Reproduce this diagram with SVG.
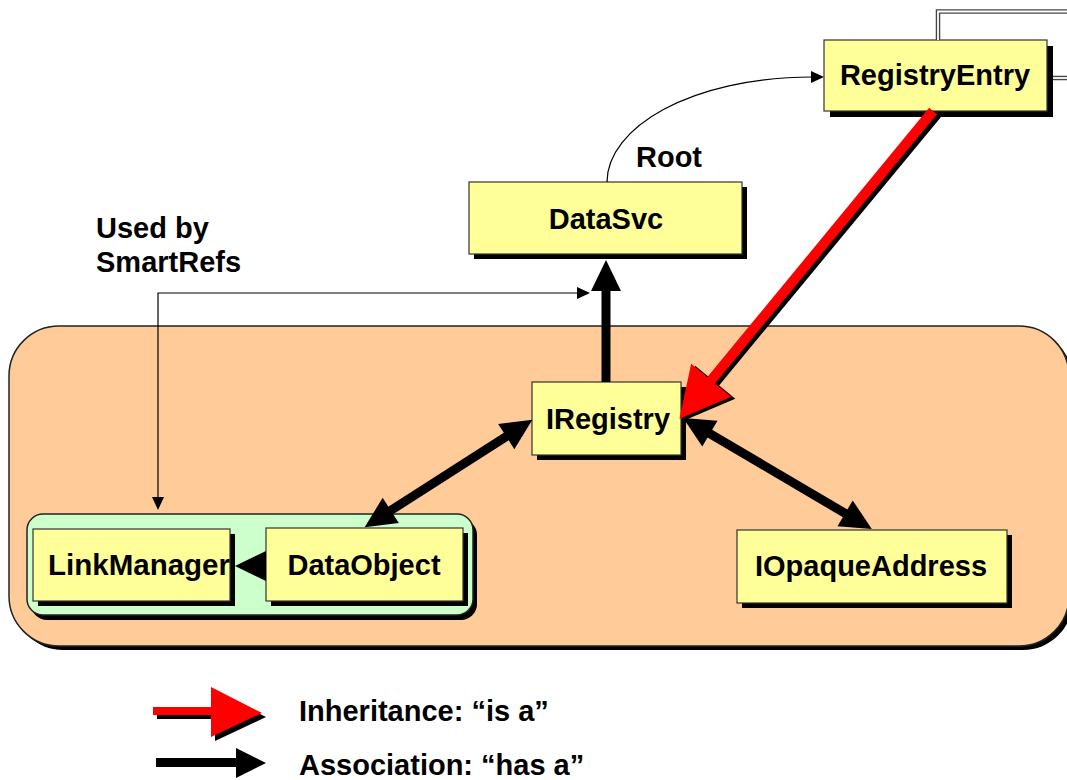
<svg xmlns="http://www.w3.org/2000/svg" width="1067" height="780" viewBox="0 0 1067 780">
<style>
  text { font-family: "Liberation Sans", Arial, sans-serif; font-weight: bold; font-size: 29px; fill: #000; }
  .mid { text-anchor: middle; }
  .box { fill: #FFFF99; stroke: #333; stroke-width: 1.2; }
  .shadow { fill: #000; }
  .assoc { stroke: #000; stroke-width: 9; fill: none; }
  .thin { stroke: #000; stroke-width: 1.2; fill: none; }
  .dbl-out { stroke: #444; stroke-width: 4.5; fill: none; }
  .dbl-in { stroke: #fff; stroke-width: 1.8; fill: none; }
</style>
<defs>
  <marker id="assoc" markerUnits="userSpaceOnUse" viewBox="0 -16 32 32" markerWidth="32" markerHeight="32" refX="8" refY="0" orient="auto-start-reverse" overflow="visible">
    <path d="M0,-15 L31,0 L0,15 z" fill="#000"/>
  </marker>
  <marker id="inh" markerUnits="userSpaceOnUse" viewBox="0 -27 52 54" markerWidth="52" markerHeight="54" refX="12" refY="0" orient="auto" overflow="visible">
    <path d="M0,-26 L50,0 L0,26 z" fill="#FF0000"/>
  </marker>
  <marker id="inhShadow" markerUnits="userSpaceOnUse" viewBox="0 -27 52 54" markerWidth="52" markerHeight="54" refX="12" refY="0" orient="auto" overflow="visible">
    <path d="M0,-26 L50,0 L0,26 z" fill="#000"/>
  </marker>
  <marker id="small" markerUnits="userSpaceOnUse" viewBox="0 -7 14 14" markerWidth="14" markerHeight="14" refX="2" refY="0" orient="auto-start-reverse" overflow="visible">
    <path d="M0,-6 L13,0 L0,6 z" fill="#000"/>
  </marker>
</defs>

<rect width="1067" height="780" fill="#fff"/>

<g id="container-outer">
  <rect x="13" y="330" width="1060" height="320" rx="50" class="shadow"/>
  <rect x="9" y="326" width="1060" height="320" rx="50" fill="#FFCC99" stroke="#222" stroke-width="1.5"/>
</g>
<g id="container-inner">
  <rect x="31" y="519" width="446" height="101" rx="16" class="shadow"/>
  <rect x="27" y="514" width="446" height="101" rx="16" fill="#CCFFCC" stroke="#222" stroke-width="1.5"/>
</g>

<g id="labels">
  <text x="96" y="238">Used by</text>
  <text x="96" y="272">SmartRefs</text>
  <text x="636" y="167">Root</text>
</g>

<g id="node-registryentry">
  <rect x="830" y="46" width="223" height="71" class="shadow"/>
  <rect x="824" y="40" width="223" height="71" class="box"/>
  <text x="935" y="85" class="mid">RegistryEntry</text>
</g>
<g id="node-datasvc">
  <rect x="474" y="187" width="273" height="72" class="shadow"/>
  <rect x="469" y="182" width="273" height="72" class="box"/>
  <text x="606" y="229" class="mid">DataSvc</text>
</g>
<g id="node-iregistry">
  <rect x="537" y="387" width="149" height="73" class="shadow"/>
  <rect x="532" y="382" width="149" height="73" class="box"/>
  <text x="608" y="429" class="mid">IRegistry</text>
</g>
<g id="node-linkmanager">
  <rect x="38" y="534" width="197" height="72" class="shadow"/>
  <rect x="33" y="529" width="197" height="72" class="box"/>
  <text x="48" y="575" textLength="182" lengthAdjust="spacingAndGlyphs">LinkManager</text>
</g>
<g id="node-dataobject">
  <rect x="271" y="533" width="197" height="73" class="shadow"/>
  <rect x="266" y="528" width="197" height="73" class="box"/>
  <text x="364" y="575" class="mid">DataObject</text>
</g>
<g id="node-iopaqueaddress">
  <rect x="742" y="535" width="270" height="73" class="shadow"/>
  <rect x="737" y="530" width="270" height="73" class="box"/>
  <text x="871" y="576" class="mid">IOpaqueAddress</text>
</g>

<g id="connectors">
  <path d="M938,40 V11.5 H1067" class="dbl-out"/>
  <path d="M938,40 V11.5 H1067" class="dbl-in"/>
  <path d="M1053,78 H1067" class="dbl-out"/>
  <path d="M1053,78 H1067" class="dbl-in"/>
  <path d="M607,182 C607,128 690,77 813,77" class="thin" marker-end="url(#small)"/>
  <path d="M579,293 H158 V499" class="thin" marker-start="url(#small)" marker-end="url(#small)"/>
  <path d="M606,382 V283" class="assoc" marker-end="url(#assoc)"/>
  <path d="M384,514.8 L513,432.2" class="assoc" marker-start="url(#assoc)" marker-end="url(#assoc)"/>
  <path d="M703,429.6 L852,517.4" class="assoc" marker-start="url(#assoc)" marker-end="url(#assoc)"/>
  <path d="M266,566 H258" class="assoc" marker-end="url(#assoc)"/>
  <path d="M937,114 L707.6,391.5" stroke="#000" stroke-width="10" fill="none" marker-end="url(#inhShadow)"/>
  <path d="M933,111 L703.6,389.5" stroke="#FF0000" stroke-width="10" fill="none" marker-end="url(#inh)"/>
</g>

<g id="legend">
  <rect x="157" y="711" width="60" height="8" fill="#000"/>
  <polygon points="215,691 266,717 215,741" fill="#000"/>
  <rect x="153" y="707" width="60" height="8" fill="#FF0000"/>
  <polygon points="211,687 262,713 211,737" fill="#FF0000"/>
  <text x="299" y="721">Inheritance: “is a”</text>
  <rect x="156" y="758" width="84" height="9" fill="#000"/>
  <polygon points="236,748 266,763 236,778" fill="#000"/>
  <text x="299" y="775">Association: “has a”</text>
</g>
</svg>
